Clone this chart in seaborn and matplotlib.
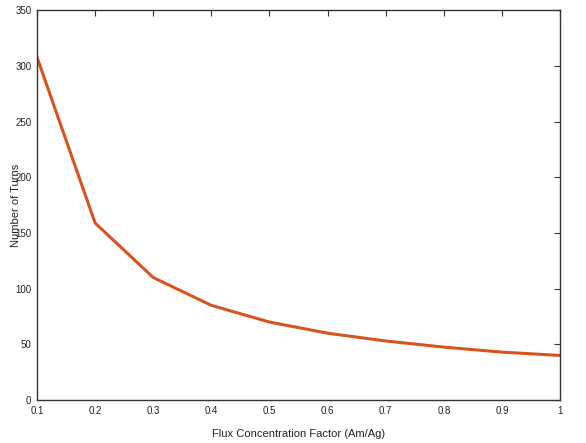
import matplotlib
matplotlib.use("Agg")
import matplotlib.pyplot as plt
import seaborn as sns
import pandas as pd

# valores
fator_concentracao = [0.1, 0.2, 0.3, 0.4, 0.5, 0.6, 0.7, 0.8, 0.9, 1.0]
numero_espiras = [308, 159, 110, 85, 70, 60, 53, 47.5, 43, 40]
x_ticks = [0.1, 0.2, 0.3, 0.4, 0.5, 0.6, 0.7, 0.8, 0.9, 1]
x_ticklabels = ["0.1", "0.2", "0.3", "0.4", "0.5", "0.6", "0.7", "0.8", "0.9", "1"]
y_ticks = [0, 50, 100, 150, 200, 250, 300, 350]

df = pd.DataFrame({"fator": fator_concentracao, "espiras": numero_espiras})

sns.set_style("white")
plt.rcParams['font.family'] = ['Liberation Sans', 'DejaVu Sans']

fig = plt.figure(figsize=(5.86, 4.43), dpi=100)
ax = fig.add_axes([0.063, 0.097, 0.893, 0.88])

sns.lineplot(data=df, x="fator", y="espiras", ax=ax, color="#d9531e", linewidth=2.2)

ax.set_xlim(0.1, 1)
ax.set_ylim(0, 350)
ax.set_xticks(x_ticks)
ax.set_xticklabels(x_ticklabels)
ax.set_yticks(y_ticks)
ax.tick_params(direction="in", length=4, width=0.8, labelsize=7, color="#333333",
               labelcolor="#222222", top=True, right=True, pad=4)
for spine in ax.spines.values():
    spine.set_color("#333333")
    spine.set_linewidth(1.0)

ax.set_xlabel("Flux Concentration Factor (Am/Ag)", fontsize=8, color="#222222")
ax.set_ylabel("Number of Turns", fontsize=8, color="#222222")
ax.yaxis.set_label_coords(-0.03, 0.5)
ax.xaxis.set_label_coords(0.5, -0.075)

plt.savefig("out.png", dpi=100)
plt.close()
